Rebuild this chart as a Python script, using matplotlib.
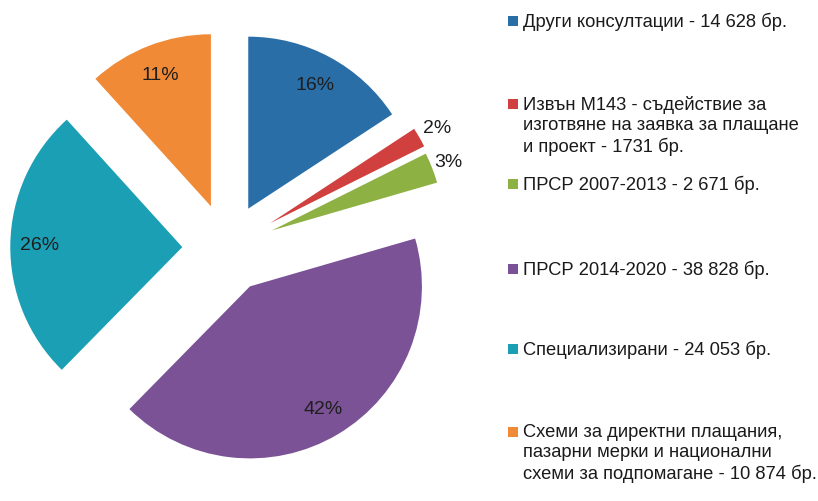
import numpy as np
import matplotlib.pyplot as plt
from matplotlib.patches import Rectangle

# Данни
categories = [
    "Други консултации - 14 628 бр.",
    "Извън М143 - съдействие за\nизготвяне на заявка за плащане\nи проект - 1731 бр.",
    "ПРСР 2007-2013 - 2 671 бр.",
    "ПРСР 2014-2020 - 38 828 бр.",
    "Специализирани - 24 053 бр.",
    "Схеми за директни плащания,\nпазарни мерки и национални\nсхеми за подпомагане - 10 874 бр.",
]
values = [14628, 1731, 2671, 38828, 24053, 10874]
pct_labels = ["16%", "2%", "3%", "42%", "26%", "11%"]

colors = ["#2a6ea8", "#d0403f", "#8db243", "#7a5295", "#1a9fb5", "#f08a36"]
explode = [0.26, 0.29, 0.28, 0.26, 0.26, 0.26]
label_dist = [0.82, 1.12, 1.10, 0.83, 0.83, 0.82]

W, H = 818, 502
fig = plt.figure(figsize=(W / 100, H / 100), dpi=100)
ax = fig.add_axes([0, 0, 1, 1])

wedges, _ = ax.pie(values, colors=colors, explode=explode, startangle=90,
                   counterclock=False, radius=1.0,
                   wedgeprops=dict(linewidth=0))

# Центърът на кръга е на (227, 249) px, радиус 172 px
cx, cy, r = 227, 249, 172
ax.set_aspect("auto")
ax.set_xlim(-cx / r, (W - cx) / r)
ax.set_ylim(-(H - cy) / r, cy / r)
ax.axis("off")

# Процентите
for w, txt, d in zip(wedges, pct_labels, label_dist):
    a = np.deg2rad((w.theta1 + w.theta2) / 2)
    x0, y0 = w.center
    ax.text(x0 + d * np.cos(a), y0 + d * np.sin(a), txt,
            ha="center", va="center", fontsize=14, color="#1e1e1e",
            family=["Liberation Sans", "DejaVu Sans"])

# Легенда
leg_y = [22, 105, 185, 270, 350, 433]
for y, lab, c in zip(leg_y, categories, colors):
    fig.add_artist(Rectangle((508 / W, 1 - (y + 5) / H), 10 / W, 10 / H,
                             transform=fig.transFigure, color=c, lw=0))
    fig.text(523 / W, 1 - (y - 9) / H, lab, ha="left", va="top",
             fontsize=13.2, color="#1a1a1a", linespacing=1.23,
             family=["Liberation Sans", "DejaVu Sans"])

fig.savefig("out.png", dpi=100)
